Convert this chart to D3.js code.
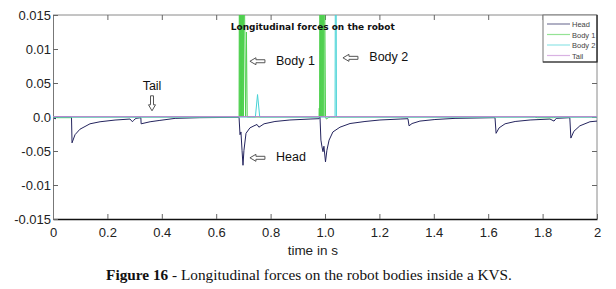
<!DOCTYPE html>
<html>
<head>
<meta charset="utf-8">
<script src="https://cdn.jsdelivr.net/npm/d3@7"></script>
<style>
  body { margin: 0; background: #fff; }
  svg { display: block; }
</style>
</head>
<body>
<svg id="chart" width="616" height="289"></svg>
<script>
// data: [time in s, force]
const headData = [
  [0, 0], [0.008, -0.0003], [0.012, 0], [0.068, 0], [0.07, -0.0038], [0.081, -0.0026],
  [0.099, -0.0018], [0.136, -0.001], [0.173, -0.0007], [0.228, -0.00045], [0.283, -0.0003],
  [0.292, -0.0007], [0.296, -0.0005], [0.305, -0.0002], [0.323, -0.0001], [0.324, -0.001],
  [0.357, -0.0007], [0.393, -0.0005], [0.449, -0.0002], [0.54, -0.0001], [0.684, -0.00005],
  [0.6875, -0.0026], [0.691, -0.0022], [0.695, -0.0049], [0.6985, -0.0071], [0.702, -0.0049],
  [0.7096, -0.0024], [0.724, -0.0016], [0.739, -0.0013], [0.75, -0.0011], [0.757, -0.0015],
  [0.776, -0.001], [0.816, -0.00066], [0.871, -0.00044], [0.945, -0.0003], [0.978, -0.00025],
  [0.9816, 0], [0.985, -0.0034], [0.989, -0.0044], [0.9926, -0.0051], [0.996, -0.0043],
  [1.0018, -0.0066], [1.007, -0.0049], [1.015, -0.0034], [1.029, -0.0022], [1.055, -0.0015],
  [1.092, -0.00096], [1.147, -0.00066], [1.202, -0.00044], [1.276, -0.0003], [1.305, -0.00025],
  [1.309, -0.0013], [1.32, -0.00096], [1.349, -0.0006], [1.404, -0.00037], [1.478, -0.0002],
  [1.625, -0.0001], [1.629, -0.0024], [1.64, -0.0016], [1.662, -0.001], [1.699, -0.00066],
  [1.754, -0.00044], [1.827, -0.0003], [1.842, -0.0006], [1.85, -0.0002], [1.9, -0.0001],
  [1.904, -0.0031], [1.915, -0.0021], [1.937, -0.0013], [1.974, -0.0007], [2.0, -0.0006]
];
const body1Data = [
  [0, 0], [0.015, -0.0001], [0.068, -0.0001], [0.07, 0], [0.684, 0],
  [0.6855, 0.03], [0.687, 0], [0.6885, 0.03], [0.69, 0], [0.6915, 0.03], [0.693, 0],
  [0.6945, 0.03], [0.696, 0], [0.6975, 0.03], [0.7, 0], [0.701, 0.03], [0.708, 0],
  [0.711, 0.0125], [0.714, 0], [0.73, 0], [0.978, 0], [0.979, 0.0013], [0.98, 0],
  [0.9815, 0.03], [0.983, 0], [0.9845, 0.03], [0.986, 0], [0.9875, 0.03], [0.989, 0],
  [0.9905, 0.03], [0.992, 0], [0.9935, 0.03], [0.996, 0], [0.997, 0.03], [1.002, 0],
  [1.005, -0.0003], [1.012, -0.0001], [1.02, 0], [1.77, 0], [1.78, -0.0001], [1.84, -0.0001],
  [1.85, 0], [2.0, 0]
];
const body2Data = [
  [0, 0], [0.744, 0], [0.752, 0.0033], [0.76, 0], [1.037, 0], [1.0385, 0.03], [1.0405, 0.03],
  [1.042, 0], [2.0, 0]
];
const tailData = [
  [0, 0.00005], [0.5, 0.00005], [1.0, 0.00005], [1.5, 0.00005], [2.0, 0.00005]
];
const seriesNames = ["Head", "Body 1", "Body 2", "Tail"];
const seriesColors = ["#24245e", "#4fd04f", "#47d3d6", "#c07fd0"];

const xTicks = [0, 0.2, 0.4, 0.6, 0.8, 1.0, 1.2, 1.4, 1.6, 1.8, 2];
const xTickLabels = ["0", "0.2", "0.4", "0.6", "0.8", "1.0", "1.2", "1.4", "1.6", "1.8", "2"];
const yTicks = [0.015, 0.01, 0.005, 0, -0.005, -0.01, -0.015];
const yTickLabels = ["0.015", "0.01", "0.05", "0.0", "-0.05", "-0.01", "-0.015"];

// text annotations: [label, time, force]
const notes = [
  ["Body 1", 0.82, 0.0077],
  ["Body 2", 1.163, 0.0082],
  ["Head", 0.82, -0.0065],
  ["Tail", 0.364, 0.004]
];
// left-pointing hollow arrows: [time of tip, force]
const leftArrows = [[0.724, 0.0082], [1.066, 0.0087], [0.724, -0.006]];

const svg = d3.select("#chart");
const margin = { top: 15, right: 19, bottom: 70, left: 53 };
const width = 616 - margin.left - margin.right;
const height = 289 - margin.top - margin.bottom;

const x = d3.scaleLinear().domain([0, 2]).range([0, width]);
const y = d3.scaleLinear().domain([-0.015, 0.015]).range([height, 0]);

const g = svg.append("g").attr("transform", `translate(${margin.left}, ${margin.top})`);

svg.append("defs").append("clipPath").attr("id", "plotClip")
  .append("rect").attr("width", width).attr("height", height);

const tickFont = "'Liberation Sans', Arial, sans-serif";

// frame: top and right borders
g.append("line").attr("x1", 0).attr("x2", width).attr("y1", 0).attr("y2", 0)
  .attr("stroke", "#8a8a8a").attr("stroke-width", 1);
g.append("line").attr("x1", width).attr("x2", width).attr("y1", 0).attr("y2", height)
  .attr("stroke", "#8a8a8a").attr("stroke-width", 1);

// inward ticks on all sides
const xBottom = g.append("g").attr("transform", `translate(0, ${height})`)
  .call(d3.axisBottom(x).tickValues(xTicks).tickSizeInner(-5).tickSizeOuter(0)
    .tickPadding(9).tickFormat((d, i) => xTickLabels[i]));
xBottom.select(".domain").attr("stroke", "#111").attr("stroke-width", 1.4);
xBottom.selectAll(".tick line").attr("stroke", "#666");
xBottom.selectAll("text").attr("font-family", tickFont).attr("font-size", 13).attr("fill", "#222");

const xTop = g.append("g")
  .call(d3.axisTop(x).tickValues(xTicks.slice(1, -1)).tickSizeInner(-5).tickSizeOuter(0).tickFormat(""));
xTop.select(".domain").remove();
xTop.selectAll(".tick line").attr("stroke", "#666");

const yLeft = g.append("g")
  .call(d3.axisLeft(y).tickValues(yTicks).tickSizeInner(-5).tickSizeOuter(0)
    .tickPadding(5).tickFormat((d, i) => yTickLabels[i]));
yLeft.select(".domain").attr("stroke", "#777");
yLeft.selectAll(".tick line").attr("stroke", "#666");
yLeft.selectAll("text").attr("font-family", tickFont).attr("font-size", 13).attr("fill", "#222")
  .attr("dx", 3);

const yRight = g.append("g").attr("transform", `translate(${width}, 0)`)
  .call(d3.axisRight(y).tickValues(yTicks.slice(1, -1)).tickSizeInner(-5).tickSizeOuter(0).tickFormat(""));
yRight.select(".domain").remove();
yRight.selectAll(".tick line").attr("stroke", "#666");

// series
const line = d3.line()
  .x((d) => x(d[0]))
  .y((d) => y(d[1]))
  .curve(d3.curveLinear);

const plot = g.append("g").attr("clip-path", "url(#plotClip)");
[headData, body1Data, body2Data, tailData].forEach((data, i) => {
  plot.append("path")
    .datum(data)
    .attr("fill", "none")
    .attr("stroke", seriesColors[i])
    .attr("stroke-width", 1)
    .attr("d", line);
});

// inner title
g.append("text")
  .attr("x", x(0.955)).attr("y", 15)
  .attr("text-anchor", "middle")
  .attr("font-family", "'DejaVu Sans', Verdana, sans-serif")
  .attr("font-weight", "bold").attr("font-size", 9.5)
  .attr("textLength", 164).attr("lengthAdjust", "spacingAndGlyphs")
  .attr("fill", "#111")
  .text("Longitudinal forces on the robot");

// legend
const legend = g.append("g").attr("transform", `translate(${width - 54}, 0)`);
legend.append("rect").attr("width", 54).attr("height", 47)
  .attr("fill", "#fff").attr("stroke", "#777");
legend.append("path").attr("d", "M54,0V47H0").attr("fill", "none").attr("stroke", "#222").attr("stroke-width", 1.2);
seriesNames.forEach((name, i) => {
  const ly = 9 + i * 10.5;
  legend.append("line").attr("x1", 4).attr("x2", 27).attr("y1", ly).attr("y2", ly)
    .attr("stroke", seriesColors[i]).attr("stroke-opacity", 0.6).attr("stroke-width", 1.2);
  legend.append("text").attr("x", 29).attr("y", ly + 3)
    .attr("font-family", tickFont).attr("font-size", 7.5).attr("fill", "#444")
    .text(name);
});

// annotations
const noteG = g.append("g").attr("font-family", "'Liberation Sans', Arial, sans-serif")
  .attr("font-size", 12.5).attr("fill", "#111");
notes.forEach((n) => {
  noteG.append("text")
    .attr("x", x(n[1])).attr("y", y(n[2]))
    .attr("text-anchor", n[0] === "Tail" ? "middle" : "start")
    .text(n[0]);
});
leftArrows.forEach((a) => {
  const ax = x(a[0]), ay = y(a[1]);
  g.append("path")
    .attr("d", `M${ax},${ay} l6,-3.5 v2 h9 v3 h-9 v2 z`)
    .attr("fill", "#fff").attr("stroke", "#555").attr("stroke-width", 1);
});
// down arrow below the tail label
const tx = x(0.364), ty = y(0.004) + 6;
g.append("path")
  .attr("d", `M${tx - 1.5},${ty} h3 v9 h2 l-3.5,6 l-3.5,-6 h2 z`)
  .attr("fill", "#fff").attr("stroke", "#555").attr("stroke-width", 1);

// axis title and caption
svg.append("text")
  .attr("x", margin.left + x(0.955)).attr("y", 255)
  .attr("text-anchor", "middle")
  .attr("font-family", tickFont).attr("font-size", 13.5).attr("fill", "#222")
  .text("time in s");

const cap = svg.append("text")
  .attr("x", 309).attr("y", 280)
  .attr("text-anchor", "middle")
  .attr("font-family", "'Liberation Serif', 'Times New Roman', serif")
  .attr("font-size", 15.3).attr("fill", "#111");
cap.append("tspan").attr("font-weight", "bold").text("Figure 16");
cap.append("tspan").text(" - Longitudinal forces on the robot bodies inside a KVS.");
</script>
</body>
</html>
